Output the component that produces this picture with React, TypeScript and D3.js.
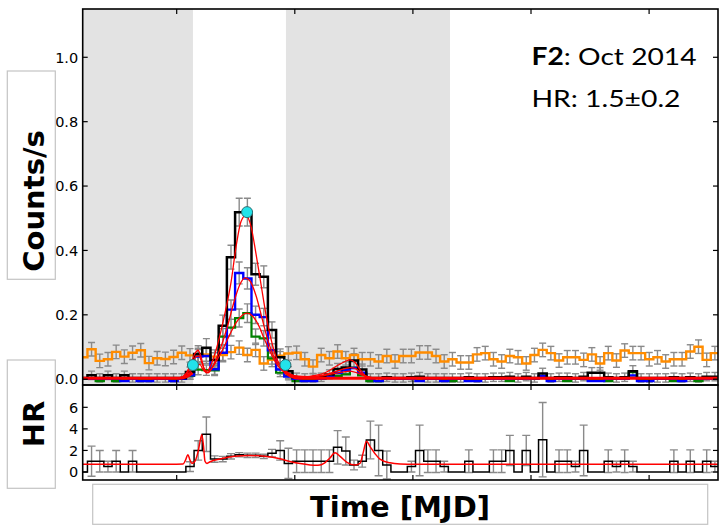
import React from "react";
import * as d3 from "d3";

// Light-curve bins: 10-minute bins, time in hours since MJD 56940.0
const BIN_START = 0.42;
const BIN_WIDTH = 1 / 6;

const TIME_DOMAIN: [number, number] = [0.49, 13.4];
const RATE_DOMAIN: [number, number] = [-0.018, 1.15];
const HR_DOMAIN: [number, number] = [-0.742, 8.07];

const timeTicks = [2.4, 4.8, 7.2, 9.6, 12.0];
const rateTicks = [0, 0.2, 0.4, 0.6, 0.8, 1.0];
const hrTicks = [0, 2, 4, 6];

// Intervals outside the flare (shaded)
const shadedIntervals: [number, number][] = [
  [0.49, 2.73],
  [4.62, 7.954],
];

// Background-band rate (counts/s)
const orangeRate = [
  0.068, 0.093, 0.057, 0.062, 0.085, 0.070, 0.082, 0.090, 0.050, 0.065,
  0.063, 0.069, 0.082, 0.074, 0.075, 0.077, 0.070, 0.075, 0.084, 0.098,
  0.075, 0.091, 0.049, 0.060, 0.073, 0.080, 0.082, 0.062, 0.039, 0.075,
  0.065, 0.086, 0.065, 0.075, 0.062, 0.062, 0.055, 0.072, 0.055, 0.072,
  0.072, 0.083, 0.083, 0.072, 0.055, 0.062, 0.052, 0.052, 0.077, 0.081,
  0.062, 0.055, 0.072, 0.068, 0.049, 0.075, 0.091, 0.081, 0.058, 0.068,
  0.068, 0.060, 0.077, 0.049, 0.081, 0.058, 0.089, 0.081, 0.081, 0.062,
  0.068, 0.055, 0.062, 0.062, 0.086, 0.101, 0.060, 0.081,
];
const orangeErr = 0.021;

// Full-band source rate
const blackRate = [
  0.004, 0.012, 0.004, 0.012, 0.004, 0.012, 0.004, 0.004, 0.004, 0.004,
  0.004, 0.004, 0.004, 0.022, 0.078, 0.098, 0.060, 0.166, 0.379, 0.519,
  0.519, 0.326, 0.318, 0.153, 0.068, 0.025, 0.006, 0.004, 0.004, 0.006,
  0.015, 0.032, 0.036, 0.058, 0.030, 0.004, 0.004, 0.006, 0.004, 0.004,
  0.006, 0.008, 0.004, 0.004, 0.004, 0.004, 0.004, 0.006, 0.004, 0.004,
  0.006, 0.006, 0.008, 0.004, 0.008, 0.004, 0.018, 0.004, 0.006, 0.006,
  0.004, 0.008, 0.020, 0.020, 0.006, 0.004, 0.006, 0.025, 0.004, 0.004,
  0.004, 0.004, 0.006, 0.004, 0.006, 0.004, 0.008, 0.008,
];
const blackErr = [
  0.013, 0.013, 0.013, 0.013, 0.013, 0.013, 0.013, 0.013, 0.013, 0.013,
  0.013, 0.013, 0.013, 0.016, 0.026, 0.028, 0.022, 0.033, 0.037, 0.043,
  0.043, 0.034, 0.034, 0.025, 0.018, 0.014, 0.013, 0.013, 0.013, 0.013,
  0.014, 0.017, 0.018, 0.021, 0.017, 0.013, 0.013, 0.013, 0.013, 0.013,
  0.013, 0.013, 0.013, 0.013, 0.013, 0.013, 0.013, 0.013, 0.013, 0.013,
  0.013, 0.013, 0.013, 0.013, 0.013, 0.013, 0.016, 0.013, 0.013, 0.013,
  0.013, 0.013, 0.016, 0.016, 0.013, 0.013, 0.013, 0.017, 0.013, 0.013,
  0.013, 0.013, 0.013, 0.013, 0.013, 0.013, 0.013, 0.013,
];

// Soft-band rate
const blueRate = [
  0.001, 0.001, 0.001, 0.001, 0.001, -0.006, 0.001, -0.006, -0.006, 0.001,
  0.001, -0.006, 0.001, 0.012, 0.070, 0.072, 0.031, 0.082, 0.216, 0.330,
  0.313, 0.200, 0.193, 0.090, 0.030, 0.008, 0.001, -0.006, -0.006, 0.001,
  0.008, 0.020, 0.028, 0.035, 0.020, 0.001, -0.006, 0.001, 0.001, 0.001,
  0.001, -0.006, 0.001, 0.001, -0.006, 0.001, 0.001, -0.006, -0.006, 0.001,
  0.001, 0.001, 0.001, 0.001, 0.001, 0.001, 0.010, -0.006, 0.001, 0.001,
  0.001, 0.001, -0.006, -0.006, 0.001, 0.001, 0.001, 0.012, -0.006, -0.006,
  0.001, 0.001, 0.001, -0.006, 0.001, 0.001, 0.001, 0.001,
];
const blueErr = [
  0, 0, 0, 0, 0, 0, 0, 0, 0, 0,
  0, 0, 0, 0.012, 0.022, 0.023, 0.016, 0.024, 0.030, 0.034,
  0.033, 0.027, 0.027, 0.020, 0.014, 0.010, 0, 0, 0, 0,
  0, 0, 0, 0, 0, 0, 0, 0, 0, 0,
  0, 0, 0, 0, 0, 0, 0, 0, 0, 0,
  0, 0, 0, 0, 0, 0, 0, 0, 0, 0,
  0, 0, 0, 0, 0, 0, 0, 0, 0, 0,
  0, 0, 0, 0, 0, 0, 0, 0,
];

// Hard-band rate
const greenRate = [
  0.001, 0.001, -0.006, 0.001, -0.006, 0.001, 0.001, 0.001, 0.001, 0.001,
  0.001, 0.001, 0.001, 0.010, 0.030, 0.028, 0.027, 0.132, 0.160, 0.190,
  0.205, 0.132, 0.127, 0.065, 0.020, 0.010, -0.006, 0.001, 0.001, 0.001,
  0.004, 0.010, 0.015, 0.036, 0.012, -0.006, -0.006, 0.001, 0.001, 0.001,
  0.001, 0.001, 0.001, 0.001, 0.001, -0.006, 0.001, 0.001, 0.001, 0.001,
  0.001, 0.001, -0.006, 0.001, 0.001, 0.001, 0.006, 0.001, 0.001, -0.006,
  0.001, 0.001, 0.001, 0.001, -0.006, 0.001, 0.001, 0.022, 0.001, 0.001,
  0.001, 0.001, -0.006, 0.001, 0.001, -0.006, 0.001, 0.001,
];
const greenErr = [
  0, 0, 0, 0, 0, 0, 0, 0, 0, 0,
  0, 0, 0, 0.010, 0.016, 0.016, 0.016, 0.025, 0.026, 0.028,
  0.029, 0.024, 0.024, 0.018, 0.012, 0.008, 0, 0, 0, 0,
  0, 0, 0, 0, 0, 0, 0, 0, 0, 0,
  0, 0, 0, 0, 0, 0, 0, 0, 0, 0,
  0, 0, 0, 0, 0, 0, 0, 0, 0, 0,
  0, 0, 0, 0, 0, 0, 0, 0, 0, 0,
  0, 0, 0, 0, 0, 0, 0, 0,
];

// Hardness ratio per bin
const hrValues = [
  0, 1.0, 1.0, 0.5, 1.0, 0, 1.0, 0, 0, 0,
  0, 0, 0, 0.5, 2.0, 3.5, 1.2, 1.2, 1.45, 1.6,
  1.55, 1.55, 1.45, 1.75, 2.0, 0.8, 1.0, 1.0, 1.0, 1.0,
  1.0, 2.29, 1.95, 0.65, 1.0, 2.97, 2.0, 0.65, 0, 0,
  0.5, 2.0, 1.0, 1.0, 0.5, 0, 0, 1.0, 0, 0,
  1.0, 1.0, 2.0, 0, 2.0, 0, 3.0, 0, 1.0, 1.0,
  0.5, 2.0, 0, 0, 1.0, 0.5, 1.0, 0.5, 0, 0,
  0, 0, 1.0, 0, 1.0, 0, 1.0, 0.5,
];
const hrErr = [
  0, 1.4, 1.0, 0.5, 1.0, 0, 1.0, 0, 0, 0,
  0, 0, 0, 0.45, 0.9, 1.6, 0.3, 0.25, 0.25, 0.2,
  0.2, 0.2, 0.2, 0.35, 0.9, 1.4, 1.05, 1.05, 1.05, 1.05,
  1.05, 1.55, 1.3, 0.45, 0.55, 1.75, 2.35, 1.3, 0, 0,
  0.5, 2.35, 1.05, 1.05, 0.5, 0, 0, 1.05, 0, 0,
  1.05, 1.05, 1.4, 0, 1.4, 0, 3.45, 0, 1.05, 1.05,
  0.5, 2.35, 0, 0, 1.05, 0.5, 1.05, 0.5, 0, 0,
  0, 0, 1.05, 0, 1.05, 0, 1.05, 0.5,
];

// Flare model curves [time, rate]
const modelTotal: [number, number][] = [
  [2.264, 0.003], [2.467, 0.005], [2.589, 0.018], [2.691, 0.05], [2.772, 0.08],
  [2.833, 0.09], [2.894, 0.07], [2.955, 0.035], [3.016, 0.025], [3.097, 0.045],
  [3.199, 0.09], [3.3, 0.15], [3.402, 0.22], [3.503, 0.3], [3.605, 0.41],
  [3.707, 0.49], [3.808, 0.51], [3.91, 0.475], [4.011, 0.39], [4.113, 0.295],
  [4.215, 0.2], [4.316, 0.125], [4.418, 0.07], [4.519, 0.04], [4.621, 0.025],
  [4.764, 0.012], [4.967, 0.007], [5.211, 0.012], [5.414, 0.02], [5.617, 0.038],
  [5.82, 0.055], [5.922, 0.06], [6.024, 0.052], [6.125, 0.03], [6.247, 0.01],
  [6.43, 0.004], [6.735, 0.003],
];
const modelSoft: [number, number][] = [
  [2.467, 0.004], [2.589, 0.015], [2.691, 0.04], [2.792, 0.07], [2.853, 0.072],
  [2.914, 0.05], [2.975, 0.025], [3.036, 0.02], [3.117, 0.035], [3.219, 0.07],
  [3.321, 0.11], [3.442, 0.17], [3.564, 0.24], [3.686, 0.295], [3.788, 0.315],
  [3.89, 0.305], [4.011, 0.26], [4.133, 0.19], [4.255, 0.12], [4.377, 0.07],
  [4.499, 0.04], [4.621, 0.022], [4.804, 0.01], [5.109, 0.008], [5.414, 0.014],
  [5.718, 0.028], [5.922, 0.036], [6.044, 0.032], [6.166, 0.016], [6.329, 0.005],
  [6.634, 0.003],
];
const modelHard: [number, number][] = [
  [2.467, 0.003], [2.589, 0.012], [2.711, 0.03], [2.813, 0.045], [2.874, 0.045],
  [2.934, 0.03], [3.016, 0.02], [3.117, 0.035], [3.239, 0.065], [3.361, 0.1],
  [3.483, 0.14], [3.605, 0.175], [3.727, 0.198], [3.829, 0.205], [3.95, 0.195],
  [4.072, 0.165], [4.194, 0.12], [4.316, 0.08], [4.438, 0.045], [4.56, 0.025],
  [4.703, 0.013], [4.906, 0.007], [5.211, 0.008], [5.515, 0.015], [5.759, 0.022],
  [5.922, 0.025], [6.064, 0.02], [6.207, 0.01], [6.43, 0.003],
];
// Quiescent level outside the flare window
const quiescentBefore: [number, number][] = [
  [0.49, 0.003], [2.45, 0.003], [2.6, 0.008], [2.72, 0.02],
];
const quiescentAfter: [number, number][] = [
  [4.6, 0.022], [4.72, 0.01], [4.9, 0.003], [13.4, 0.003],
];

// Flare start, peak and end
const flareMarkers: [number, number][] = [
  [2.73, 0.044],
  [3.83, 0.519],
  [4.61, 0.044],
];

// Hardness-ratio model [time, HR]
const hrModel: [number, number][] = [
  [0.49, 0.72], [2.26, 0.72], [2.53, 0.75], [2.57, 1.0], [2.63, 1.6],
  [2.67, 1.1], [2.71, 0.8], [2.77, 1.0], [2.83, 1.8], [2.87, 2.7],
  [2.91, 3.45], [2.945, 2.4], [2.975, 1.0], [3.016, 0.8], [3.08, 0.95],
  [3.28, 1.2], [3.58, 1.45], [3.89, 1.53], [4.19, 1.45], [4.5, 1.22],
  [4.7, 0.98], [4.91, 0.78], [5.11, 0.66], [5.27, 0.63], [5.41, 0.85],
  [5.515, 1.3], [5.617, 1.78], [5.72, 1.45], [5.86, 0.9], [6.02, 0.65],
  [6.125, 0.8], [6.19, 1.8], [6.257, 2.85], [6.33, 2.35], [6.43, 1.7],
  [6.53, 1.2], [6.735, 0.85], [6.94, 0.75], [7.24, 0.72], [13.4, 0.72],
];

const RATE_BOX = { left: 82.7, right: 718, top: 9, bottom: 385 };
const HR_BOX = { left: 82.7, right: 718, top: 385, bottom: 480 };

const TICK = 5;
const GREY_ERR = "#8a8a8a";
const SHADE = "#e3e3e3";
const AXIS_FONT = "'DejaVu Sans', sans-serif";

export default function App() {
  const x = d3.scaleLinear().domain(TIME_DOMAIN).range([RATE_BOX.left, RATE_BOX.right]);
  const yRate = d3.scaleLinear().domain(RATE_DOMAIN).range([RATE_BOX.bottom, RATE_BOX.top]);
  const yHr = d3.scaleLinear().domain(HR_DOMAIN).range([HR_BOX.bottom, HR_BOX.top]);

  const binLeft = (i: number) => BIN_START + i * BIN_WIDTH;
  const binMid = (i: number) => BIN_START + (i + 0.5) * BIN_WIDTH;

  const stepPath = (vals: number[], y: d3.ScaleLinear<number, number>) => {
    const pts: [number, number][] = vals.map((v, i) => [binLeft(i), v]);
    pts.push([binLeft(vals.length), vals[vals.length - 1]]);
    return (
      d3
        .line<[number, number]>()
        .x((d) => x(d[0]))
        .y((d) => y(d[1]))
        .curve(d3.curveStepAfter)(pts) || ""
    );
  };

  const smoothPath = (pts: [number, number][], y: d3.ScaleLinear<number, number>) =>
    d3
      .line<[number, number]>()
      .x((d) => x(d[0]))
      .y((d) => y(d[1]))
      .curve(d3.curveMonotoneX)(pts) || "";

  const errorBars = (
    vals: number[],
    errs: number[] | number,
    y: d3.ScaleLinear<number, number>,
    cap: number,
    key: string
  ) =>
    vals.map((v, i) => {
      const e = typeof errs === "number" ? errs : errs[i];
      if (!e) return null;
      const cx = x(binMid(i));
      if (cx < RATE_BOX.left + 2) return null;
      const y0 = y(v - e);
      const y1 = y(v + e);
      return (
        <g key={`${key}-${i}`} stroke={GREY_ERR} strokeWidth={1.4}>
          <line x1={cx} x2={cx} y1={y0} y2={y1} />
          <line x1={cx - cap} x2={cx + cap} y1={y0} y2={y0} />
          <line x1={cx - cap} x2={cx + cap} y1={y1} y2={y1} />
        </g>
      );
    });

  const frame = (box: typeof RATE_BOX) => (
    <rect
      x={box.left}
      y={box.top}
      width={box.right - box.left}
      height={box.bottom - box.top}
      fill="none"
      stroke="#000"
      strokeWidth={1.6}
    />
  );

  const xTickMarks = (box: typeof RATE_BOX, k: string) =>
    timeTicks.map((t) => (
      <g key={`${k}-${t}`} stroke="#000" strokeWidth={1.2}>
        <line x1={x(t)} x2={x(t)} y1={box.top} y2={box.top + TICK} />
        <line x1={x(t)} x2={x(t)} y1={box.bottom} y2={box.bottom - TICK} />
      </g>
    ));

  const yTickMarks = (
    ticks: number[],
    y: d3.ScaleLinear<number, number>,
    box: typeof RATE_BOX,
    fmt: (v: number) => string,
    k: string
  ) =>
    ticks.map((t) => (
      <g key={`${k}-${t}`}>
        <line x1={box.left} x2={box.left + TICK} y1={y(t)} y2={y(t)} stroke="#000" strokeWidth={1.2} />
        <line x1={box.right} x2={box.right - TICK} y1={y(t)} y2={y(t)} stroke="#000" strokeWidth={1.2} />
        <text
          x={box.left - 4.5}
          y={y(t)}
          dy="0.36em"
          textAnchor="end"
          fontFamily={AXIS_FONT}
          fontSize={14.5}
          fill="#000"
        >
          {fmt(t)}
        </text>
      </g>
    ));

  const labelBox = { stroke: "#c4c4c4", strokeWidth: 1.2, fill: "#fff" };
  const labelFont = "'DejaVu Sans', Verdana, sans-serif";

  return (
    <svg
      width={721}
      height={526}
      viewBox="0 0 721 526"
      style={{ position: "absolute", left: 0, top: 0, background: "#fff" }}
    >
      <defs>
        <clipPath id="rate-clip">
          <rect
            x={RATE_BOX.left}
            y={RATE_BOX.top}
            width={RATE_BOX.right - RATE_BOX.left}
            height={RATE_BOX.bottom - RATE_BOX.top}
          />
        </clipPath>
        <clipPath id="hr-clip">
          <rect
            x={HR_BOX.left}
            y={HR_BOX.top}
            width={HR_BOX.right - HR_BOX.left}
            height={HR_BOX.bottom - HR_BOX.top}
          />
        </clipPath>
      </defs>

      {/* Count-rate panel */}
      <g clipPath="url(#rate-clip)">
        {shadedIntervals.map(([a, b], i) => (
          <rect
            key={`shade-${i}`}
            x={x(a)}
            y={RATE_BOX.top}
            width={x(b) - x(a)}
            height={RATE_BOX.bottom - RATE_BOX.top}
            fill={SHADE}
          />
        ))}
        {errorBars(orangeRate, orangeErr, yRate, 3.5, "oe")}
        {errorBars(greenRate, greenErr, yRate, 3.5, "ge")}
        {errorBars(blueRate, blueErr, yRate, 3.5, "be")}
        {errorBars(blackRate, blackErr, yRate, 3.5, "ke")}
        <path d={stepPath(orangeRate, yRate)} fill="none" stroke="#ff8c00" strokeWidth={2.4} />
        <path d={stepPath(greenRate, yRate)} fill="none" stroke="#008000" strokeWidth={2.2} />
        <path d={stepPath(blueRate, yRate)} fill="none" stroke="#0000ff" strokeWidth={2.4} />
        <path d={stepPath(blackRate, yRate)} fill="none" stroke="#000" strokeWidth={2.5} />
        {[modelHard, modelSoft, modelTotal].map((m, i) => (
          <path key={`model-${i}`} d={smoothPath(m, yRate)} fill="none" stroke="#ff0000" strokeWidth={1.3} />
        ))}
        {[quiescentBefore, quiescentAfter].map((m, i) => (
          <path key={`q-${i}`} d={smoothPath(m, yRate)} fill="none" stroke="#ff0000" strokeWidth={3.2} />
        ))}
        {flareMarkers.map(([t, v], i) => (
          <circle
            key={`fm-${i}`}
            cx={x(t)}
            cy={yRate(v)}
            r={5.5}
            fill="#22e3ea"
            stroke="#2a6e72"
            strokeWidth={1}
          />
        ))}
      </g>
      {frame(RATE_BOX)}
      {xTickMarks(RATE_BOX, "rx")}
      {yTickMarks(rateTicks, yRate, RATE_BOX, d3.format(".1f"), "ry")}

      {/* Hardness-ratio panel */}
      <g clipPath="url(#hr-clip)">
        {errorBars(hrValues, hrErr, yHr, 4, "he")}
        <path d={stepPath(hrValues, yHr)} fill="none" stroke="#000" strokeWidth={1.5} />
        <path d={smoothPath(hrModel, yHr)} fill="none" stroke="#ff0000" strokeWidth={1.5} />
      </g>
      {frame(HR_BOX)}
      {xTickMarks(HR_BOX, "hx")}
      {yTickMarks(hrTicks, yHr, HR_BOX, d3.format("d"), "hy")}

      {/* Flare annotation */}
      <g fontFamily="Lato, 'Open Sans', sans-serif" fontSize={24} fill="#000">
        <text x={531.5} y={65} textLength={165} lengthAdjust="spacingAndGlyphs">
          <tspan fontWeight="bold">F2</tspan>: Oct 2014
        </text>
        <text x={531.5} y={107} textLength={149} lengthAdjust="spacingAndGlyphs">
          HR: 1.5±0.2
        </text>
      </g>

      {/* Axis title boxes */}
      <rect x={7.3} y={71} width={48} height={208.3} {...labelBox} />
      <text
        transform="translate(43.5,201) rotate(-90)"
        textAnchor="middle"
        fontFamily={labelFont}
        fontWeight="bold"
        fontSize={29}
        fill="#000"
      >
        Counts/s
      </text>
      <rect x={7.3} y={360} width={48} height={128.3} {...labelBox} />
      <text
        transform="translate(43.5,424) rotate(-90)"
        textAnchor="middle"
        fontFamily={labelFont}
        fontWeight="bold"
        fontSize={29}
        fill="#000"
      >
        HR
      </text>
      <rect x={92.7} y={484.3} width={615} height={40} {...labelBox} />
      <text
        x={400}
        y={516.5}
        textAnchor="middle"
        fontFamily={labelFont}
        fontWeight="bold"
        fontSize={29}
        fill="#000"
      >
        Time [MJD]
      </text>
    </svg>
  );
}
